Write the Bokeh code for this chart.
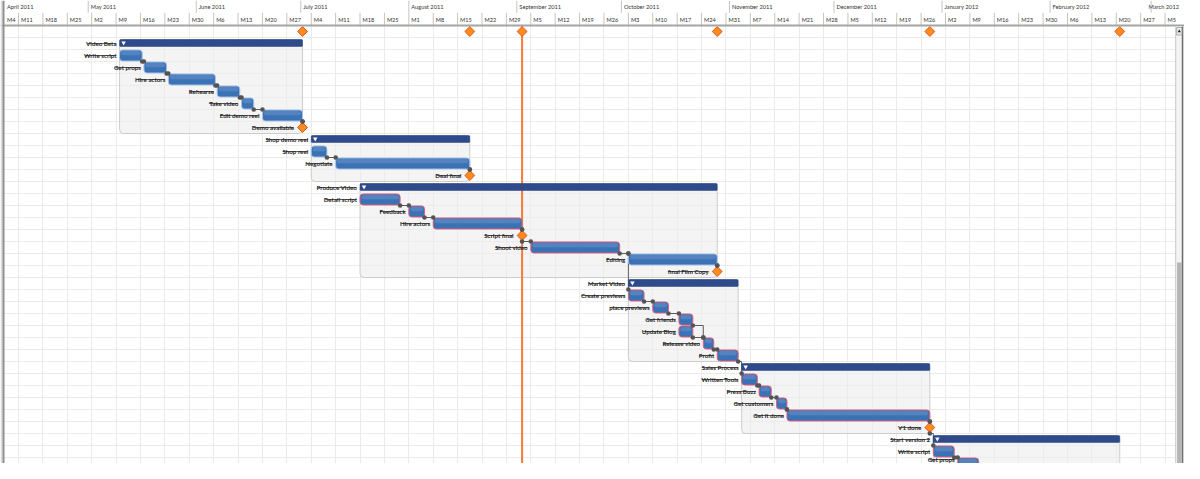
import numpy as np
import pandas as pd
from bokeh.plotting import figure
from bokeh.models import Range1d, FixedTicker, ColumnDataSource
from bokeh.embed import file_html
from bokeh.resources import INLINE
from bokeh.core.properties import value

# ------------------------------------------------------------------ data
task_names = ["Video Beta", "Write script", "Get props", "Hire actors", "Rehearse",
              "Take video", "Edit demo reel", "Demo available",
              "Shop demo reel", "Shop reel", "Negotiate", "Deal final",
              "Produce Video", "Detail script", "Feedback", "Hire actors", "Script final",
              "Shoot video", "Editing", "final Film Copy",
              "Market Video", "Create previews", "place previews", "Get friends",
              "Update Blog", "Release video", "Profit",
              "Sales Process", "Written Tools", "Press Buzz", "Get customers",
              "Get it done", "V1 done",
              "Start version 2", "Write script", "Get props", "Hire actors"]
task_kinds = ["summary", "task", "task", "task", "task", "task", "task", "milestone",
              "summary", "task", "task", "milestone",
              "summary", "task", "task", "task", "milestone", "task", "task", "milestone",
              "summary", "task", "task", "task", "task", "task", "task",
              "summary", "task", "task", "task", "task", "milestone",
              "summary", "task", "task", "task"]
task_parents = [0, 1, 1, 1, 1, 1, 1, 1,
                0, 9, 9, 9,
                0, 13, 13, 13, 13, 13, 13, 13,
                0, 21, 21, 21, 21, 21, 21,
                0, 28, 28, 28, 28, 28,
                0, 34, 34, 34]
task_starts = ["2011-05-10", "2011-05-10", "2011-05-17", "2011-05-24", "2011-06-07",
               "2011-06-14", "2011-06-20", "2011-07-01 12:00",
               "2011-07-04", "2011-07-04", "2011-07-11", "2011-08-18 12:00",
               "2011-07-18", "2011-07-18", "2011-08-01", "2011-08-08", "2011-09-02 12:00",
               "2011-09-05", "2011-10-03", "2011-10-28 12:00",
               "2011-10-03", "2011-10-03", "2011-10-10", "2011-10-17 12:00",
               "2011-10-17 12:00", "2011-10-24 12:00", "2011-10-28 12:00",
               "2011-11-04 12:00", "2011-11-04 12:00", "2011-11-09 12:00", "2011-11-14 12:00",
               "2011-11-17 12:00", "2011-12-28 12:00",
               "2011-12-29 12:00", "2011-12-29 12:00", "2012-01-05 12:00", "2012-01-12 12:00"]
task_ends = ["2011-07-01 12:00", "2011-05-16 12:00", "2011-05-23 12:00", "2011-06-06 12:00",
             "2011-06-13 12:00", "2011-06-17 12:00", "2011-07-01 12:00", "2011-07-01 12:00",
             "2011-08-18 12:00", "2011-07-08 12:00", "2011-08-18 12:00", "2011-08-18 12:00",
             "2011-10-28 12:00", "2011-07-29 12:00", "2011-08-05 12:00", "2011-09-02 12:00",
             "2011-09-02 12:00", "2011-09-30 12:00", "2011-10-28 12:00", "2011-10-28 12:00",
             "2011-11-03 12:00", "2011-10-07 12:00", "2011-10-14 12:00", "2011-10-21 12:00",
             "2011-10-21 12:00", "2011-10-27 12:00", "2011-11-03 12:00",
             "2011-12-28 12:00", "2011-11-09", "2011-11-13", "2011-11-17 12:00",
             "2011-12-28 12:00", "2011-12-28 12:00",
             "2012-02-21", "2012-01-04 12:00", "2012-01-11 12:00", "2012-01-25 12:00"]
task_critical = [False, False, False, False, False, False, False, False,
                 False, False, False, False,
                 False, True, True, True, True, True, False, False,
                 False, True, True, True, True, True, True,
                 False, True, True, True, True, True,
                 False, True, True, True]

dep_from = [2, 3, 4, 5, 6, 7, 10, 11, 14, 15, 16, 17, 18, 19,
            19,
            22, 23, 24, 25, 26, 27, 29, 30, 31, 32, 33, 35, 36]
dep_to = [3, 4, 5, 6, 7, 8, 11, 12, 15, 16, 17, 18, 19, 20,
          22,
          23, 24, 26, 26, 27, 29, 30, 31, 32, 33, 35, 36, 37]
dep_types = ["FS"] * 14 + ["SS"] + ["FS"] * 13

project_milestones = ["2011-07-01 12:00", "2011-08-18 12:00", "2011-09-02 12:00",
                      "2011-10-28 12:00", "2011-12-28 12:00", "2012-02-21"]
today_date = "2011-09-02 12:00"

month_labels = ["April 2011", "May 2011", "June 2011", "July 2011", "August 2011",
                "September 2011", "October 2011", "November 2011", "December 2011",
                "January 2012", "February 2012", "March 2012"]
month_starts = ["2011-04-01", "2011-05-01", "2011-06-01", "2011-07-01", "2011-08-01",
                "2011-09-01", "2011-10-01", "2011-11-01", "2011-12-01",
                "2012-01-01", "2012-02-01", "2012-03-01"]
week_starts = pd.date_range("2011-04-04", "2012-03-05", freq="7D")
week_labels = ["M%d" % d.day for d in week_starts]

# ------------------------------------------------------------------ layout
W, H = 1184, 463
DAY = 86400000.0


def ms(s):
    return pd.Timestamp(s).value / 1e6


PX_PER_DAY = 3.485
vs = ms("2011-04-11") - 18 / PX_PER_DAY * DAY
ve = vs + W / PX_PER_DAY * DAY
ROW_H = 12.0
r_top = -31 / ROW_H
r_bot = (H - 31) / ROW_H
pxx = (ve - vs) / W        # ms per screen px


def rx(px):   # screen x (px) -> data, for window chrome
    return vs + px * pxx


def ry(py):   # screen y (px) -> row units
    return (py - 31) / ROW_H


_NARROW = {"i": 0.25, "l": 0.25, "j": 0.25, " ": 0.25, "t": 0.36, "r": 0.37, "f": 0.33,
           "c": 0.46, "s": 0.43, "z": 0.45, "e": 0.52, "a": 0.51}
_WIDE = {"m": 0.84, "w": 0.78, "W": 0.98, "M": 0.88}


def text_w(s, fs, scale=1.0):
    tot = 0.0
    for c in s:
        if c in _NARROW:
            tot += _NARROW[c]
        elif c in _WIDE:
            tot += _WIDE[c]
        elif c.isdigit():
            tot += 0.58
        elif c.isupper():
            tot += 0.65
        else:
            tot += 0.54
    return tot * fs * scale


p = figure(width=W, height=H, x_range=Range1d(vs, ve), y_range=Range1d(r_bot, r_top),
           x_axis_location=None, y_axis_location=None, toolbar_location=None,
           output_backend="svg", min_border=0, outline_line_color=None,
           background_fill_color="white", border_fill_color="white")

week_ms = [pd.Timestamp(d).value / 1e6 for d in week_starts]
month_ms = [ms(m) for m in month_starts]
p.xgrid.ticker = FixedTicker(ticks=week_ms)
p.ygrid.ticker = FixedTicker(ticks=[k - 0.5 for k in range(0, 40)])
p.grid.grid_line_color = "#ebebeb"
p.grid.grid_line_width = 1

rows = np.arange(1, len(task_names) + 1)
S = np.array([ms(s) for s in task_starts])
E = np.array([ms(e) for e in task_ends])
kinds = np.array(task_kinds)
parents = np.array(task_parents)
crit = np.array(task_critical)

# ---- group boxes
is_sum = kinds == "summary"
box_l, box_r, box_t, box_b = [], [], [], []
for r in rows[is_sum]:
    kids = rows[parents == r]
    box_l.append(S[r - 1]); box_r.append(E[r - 1])
    box_t.append(r - 0.33); box_b.append(kids.max() + 0.5)
p.quad(left=box_l, right=box_r, top=box_t, bottom=box_b, fill_color="#ececec",
       fill_alpha=0.6, line_color="#cdcdcd", line_width=1, border_radius=4)

# ---- today line
tms = ms(today_date)
p.segment(x0=[tms], x1=[tms], y0=[-0.5], y1=[r_bot + 1], line_color="#f57a35", line_width=2)

# ---- dependency connectors
lx, ly, dx, dy = [], [], [], []
for a, b, t in zip(dep_from, dep_to, dep_types):
    if t == "FS":
        xa = E[a - 1]; xb = S[b - 1]
        ya = a + 0.5; yb = b - 0.5
        lx.append([xa, xb, xb]); ly.append([ya, ya, yb])
    else:
        xa = S[a - 1]; xb = S[b - 1]
        ya = a - 0.5; yb = b - 0.5
        lx.append([xa, xb]); ly.append([ya, yb])
    dx += [xa, xb]; dy += [ya, yb]
p.multi_line(xs=lx, ys=ly, line_color="#5c5c5c", line_width=1)

# ---- task bars
t = kinds == "task"
bar_src = ColumnDataSource(dict(
    left=S[t], right=E[t], top=rows[t] - 0.46, bottom=rows[t] + 0.46,
    hl_left=S[t] + 1.5 * pxx, hl_right=E[t] - 1.5 * pxx,
    hl_top=rows[t] - 0.38, hl_bottom=rows[t] - 0.02,
    line=["#e0607c" if c else "#a9c3e6" for c in crit[t]]))
p.quad(left="left", right="right", top="top", bottom="bottom", source=bar_src,
       fill_color="#3b72b6", line_color="line", line_width=1, border_radius=3)
p.quad(left="hl_left", right="hl_right", top="hl_top", bottom="hl_bottom", source=bar_src,
       fill_color="white", fill_alpha=0.13, line_color=None, border_radius=2)

# ---- summary bars
p.quad(left=S[is_sum], right=E[is_sum], top=rows[is_sum] - 0.33, bottom=rows[is_sum] + 0.25,
       fill_color="#2e4a8b", line_color="#27407a", line_width=0.5, border_radius=1)
p.scatter(x=S[is_sum] + 4 * pxx, y=rows[is_sum] - 0.05, marker="inverted_triangle",
          size=4.5, fill_color="white", line_color=None)

# ---- milestones
m = kinds == "milestone"
p.scatter(x=S[m], y=rows[m], marker="square", angle=np.pi / 4, size=7,
          fill_color="#ff8b1f", line_color="#e3581c", line_width=1)
p.scatter(x=[ms(d) for d in project_milestones], y=[0] * len(project_milestones),
          marker="square", angle=np.pi / 4, size=7,
          fill_color="#ff8b1f", line_color="#e3581c", line_width=1)

# ---- connector dots
p.scatter(x=dx, y=dy, marker="circle", size=4.6, fill_color="#545454", line_color=None)

# ---- task labels (rows that lie in the visible area)
FS_LAB = 6.2
vis = rows <= r_bot + 2 / ROW_H
offs = np.where(m, -8.5, -3.0)
lab_w = np.array([text_w(n, FS_LAB) for n in task_names])
lab_y = np.minimum(rows, ry(H - 4))
lab_src = ColumnDataSource(dict(x=S[vis], y=lab_y[vis], text=list(np.array(task_names)[vis]),
                                xo=offs[vis], sx1=(S + (offs - 0.5) * pxx)[vis],
                                sx0=(S + (offs - lab_w + 0.5) * pxx)[vis]))
p.segment(x0="sx0", x1="sx1", y0="y", y1="y", source=lab_src, line_color="#3a3a3a",
          line_width=1, line_alpha=0.8)
p.text(x="x", y="y", text="text", x_offset="xo", source=lab_src, text_align="right",
       text_baseline="middle", text_font=value("Lato"), text_font_style="bold",
       text_font_size="%gpx" % FS_LAB, text_color="#222222")

# ---- header
FS_HDR = 5.7
FS_WK = 5.6
p.quad(left=[vs], right=[ve], top=[r_top], bottom=[-0.5], fill_color="white", line_color=None)
p.segment(x0=month_ms, x1=month_ms, y0=[r_top] * len(month_ms), y1=[ry(12.3)] * len(month_ms),
          line_color="#c4c4c4", line_width=1)
p.segment(x0=week_ms, x1=week_ms, y0=[ry(12.3)] * len(week_ms), y1=[-0.5] * len(week_ms),
          line_color="#c4c4c4", line_width=1)
p.segment(x0=[vs], x1=[ve], y0=[-0.5], y1=[-0.5], line_color="#a4a4a4", line_width=2)
lab_min = vs + 4 * pxx
mx = [min(max(v, lab_min) + 2.5 * pxx, ve - (text_w(l, FS_HDR, 1.12) + 2) * pxx)
      for v, l in zip(month_ms, month_labels)]
wx = [min(max(v, lab_min) + 2.5 * pxx, ve - (text_w(l, FS_WK, 1.12) + 2) * pxx)
      for v, l in zip(week_ms, week_labels)]
p.text(x=mx, y=[ry(5.8)] * len(month_ms), text=month_labels,
       text_align="left", text_baseline="middle", text_font=value("Lato"),
       text_font_size="%gpx" % FS_HDR, text_color="#333333")
p.text(x=wx, y=[ry(18.6)] * len(week_ms), text=week_labels,
       text_align="left", text_baseline="middle", text_font=value("Lato"),
       text_font_size="%gpx" % FS_WK, text_color="#333333")

# ---- left border
p.quad(left=[vs], right=[vs + 2 * pxx], top=[r_top], bottom=[r_bot + 1], fill_color="#dddddd", line_color=None)
p.quad(left=[vs + 2 * pxx], right=[vs + 4 * pxx], top=[r_top], bottom=[r_bot + 1], fill_color="#8e8e8e", line_color=None)

# ---- scrollbar (at the right edge of the grid)
p.quad(left=[rx(W - 9.3)], right=[ve], top=[ry(26)], bottom=[r_bot + 1], fill_color="#f3f3f3",
       line_color=None)
p.segment(x0=[rx(W - 8.8)], x1=[rx(W - 8.8)], y0=[ry(26)], y1=[r_bot + 1], line_color="#c9c9c9", line_width=1)
p.segment(x0=[rx(W - 2.0)], x1=[rx(W - 2.0)], y0=[ry(26)], y1=[r_bot + 1], line_color="#6e6e6e", line_width=1.5)
p.quad(left=[rx(W - 7.4)], right=[rx(W - 2.8)], top=[ry(262)], bottom=[r_bot + 1], fill_color="#b4b4b4",
       line_color=None)
p.quad(left=[rx(W - 7.8)], right=[rx(W - 2.6)], top=[ry(27)], bottom=[ry(34.5)], fill_color="#ebebeb",
       line_color="#9c9c9c", line_width=0.8)
p.scatter(x=[rx(W - 5.2)], y=[ry(30.8)], marker="triangle", size=3.2, fill_color="#222222", line_color=None)

open("out.html", "w").write(file_html(p, INLINE))
